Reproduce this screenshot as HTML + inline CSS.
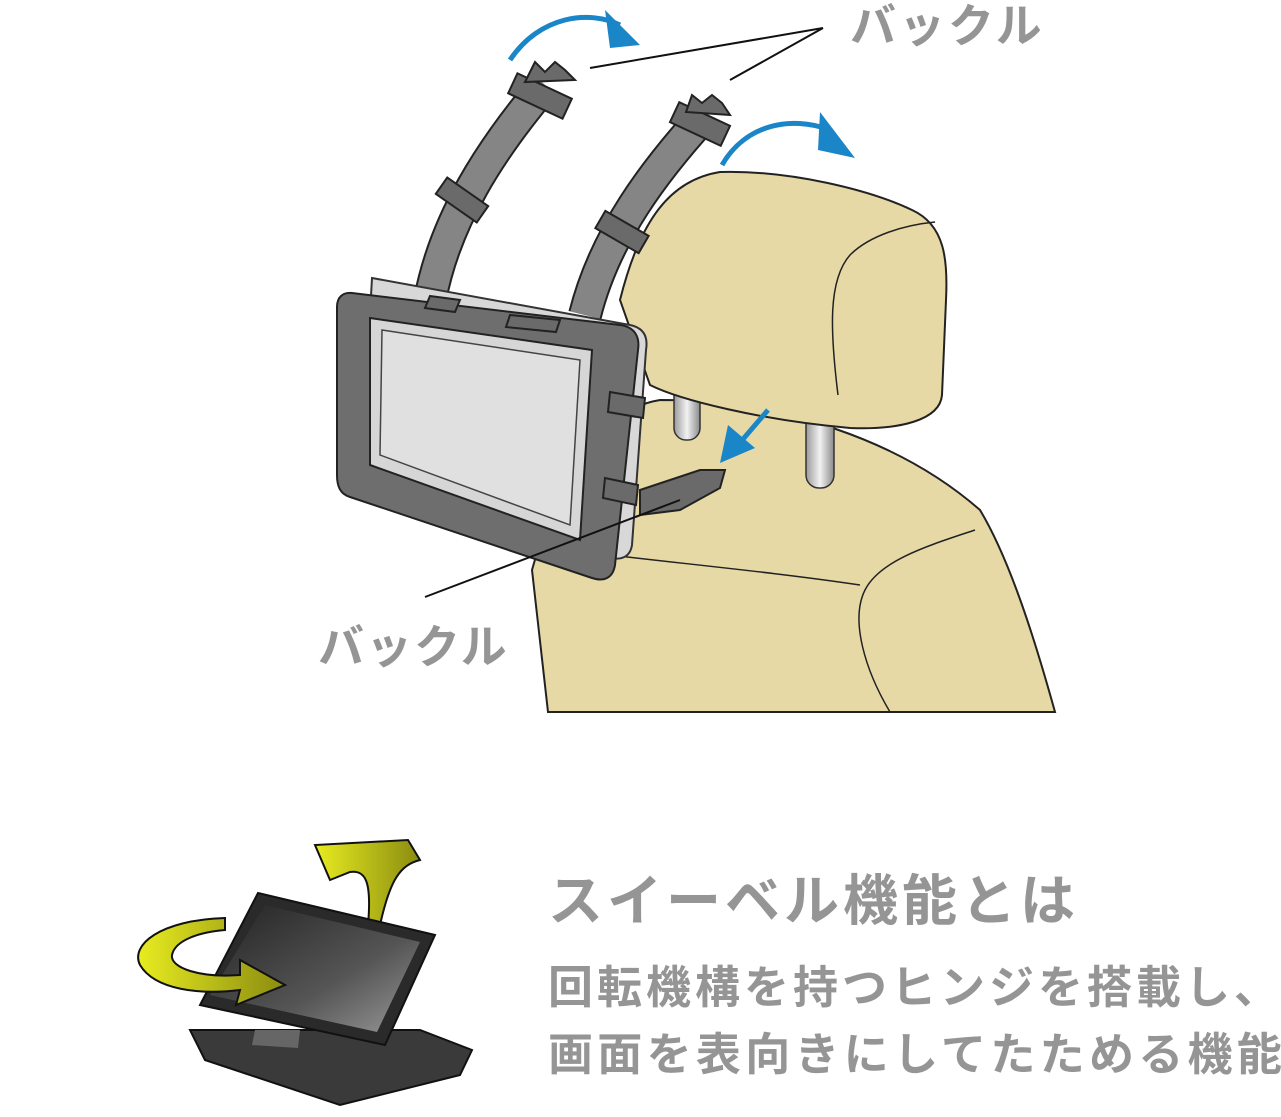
<!DOCTYPE html>
<html><head><meta charset="utf-8"><style>
html,body{margin:0;padding:0;background:#fff;}
svg{display:block;}
text{font-family:"Liberation Sans","Noto Sans CJK JP",sans-serif;font-weight:bold;fill:#959595;}
</style></head><body>
<svg width="1281" height="1117" viewBox="0 0 1281 1117" xmlns="http://www.w3.org/2000/svg">
<defs>
<linearGradient id="post" x1="0" x2="1"><stop offset="0" stop-color="#9a9a9a"/><stop offset="0.5" stop-color="#f2f2f2"/><stop offset="1" stop-color="#8a8a8a"/></linearGradient>
<linearGradient id="scr" x1="0" y1="0" x2="1" y2="1"><stop offset="0" stop-color="#222"/><stop offset="0.6" stop-color="#555"/><stop offset="1" stop-color="#999"/></linearGradient>
<linearGradient id="yel" x1="0" x2="1"><stop offset="0" stop-color="#e8ec20"/><stop offset="1" stop-color="#8a8c10"/></linearGradient>
</defs>

<path d="M548,712 L532,570 C560,470 600,410 660,400 C780,400 900,440 980,510 C1010,560 1035,640 1055,712 Z" fill="#e6d9a6" stroke="#222" stroke-width="2"/>
<path d="M530,545 C640,560 760,570 860,585" fill="none" stroke="#222" stroke-width="1.5"/>
<path d="M975,530 C930,545 880,560 865,590 C850,620 865,670 890,712" fill="none" stroke="#222" stroke-width="1.5"/>
<rect x="674" y="370" width="26" height="70" rx="12" fill="url(#post)" stroke="#333" stroke-width="1.5"/>
<rect x="806" y="410" width="28" height="78" rx="13" fill="url(#post)" stroke="#333" stroke-width="1.5"/>
<path d="M620,300 C640,220 670,180 720,172 C790,170 870,190 912,210 C945,225 948,260 946,300 L942,395 C940,420 900,430 850,428 C760,420 680,400 650,385 Z" fill="#e6d9a6" stroke="#222" stroke-width="2"/>
<path d="M838,395 C830,330 828,280 850,255 C870,235 905,225 935,222" fill="none" stroke="#222" stroke-width="1.5"/>

<g fill="none">
<path d="M430,300 C445,220 490,150 545,85" stroke="#222" stroke-width="34"/>
<path d="M430,300 C445,220 490,150 545,85" stroke="#858585" stroke-width="30"/>
<path d="M585,315 C605,235 655,170 705,115" stroke="#222" stroke-width="34"/>
<path d="M585,315 C605,235 655,170 705,115" stroke="#858585" stroke-width="30"/>
</g>
<g fill="#6a6a6a" stroke="#222" stroke-width="2">
<rect x="437" y="190" width="50" height="20" transform="rotate(35 462 200)"/>
<rect x="597" y="222" width="50" height="20" transform="rotate(30 622 232)"/>
<rect x="510" y="85" width="60" height="22" transform="rotate(25 540 96)"/>
<rect x="672" y="113" width="56" height="22" transform="rotate(25 700 124)"/>
<path d="M525,82 L535,62 L545,72 L555,62 L565,70 L575,80 Z"/>
<path d="M686,112 L692,95 L702,103 L712,95 L722,103 L730,115 Z"/>
</g>

<path d="M372,278 L630,325 C645,328 648,338 646,350 L632,545 C630,558 620,560 610,558 L360,490 Z" fill="#d8d8d8" stroke="#333" stroke-width="2"/>
<path d="M352,293 L620,325 C635,327 640,337 638,350 L615,565 C613,578 604,582 592,578 L350,497 C340,494 337,486 337,475 L337,307 C337,297 343,292 352,293 Z" fill="#6e6e6e" stroke="#222" stroke-width="2"/>
<path d="M370,318 L592,350 L580,540 L370,465 Z" fill="#d6d6d6" stroke="#222" stroke-width="2"/>
<path d="M382,330 L580,360 L570,525 L380,455 Z" fill="#e0e0e0" stroke="#444" stroke-width="1.5"/>
<g fill="#6a6a6a" stroke="#222" stroke-width="2">
<path d="M610,392 L645,398 L643,418 L608,412 Z"/>
<path d="M605,478 L638,485 L636,505 L603,498 Z"/>
<path d="M640,490 L700,470 L725,470 L720,488 L680,510 L640,515 Z"/>
<path d="M430,296 L460,300 L455,312 L425,308 Z"/>
<path d="M510,315 L560,320 L556,332 L506,327 Z"/>
</g>

<g fill="none" stroke="#1a86c8" stroke-width="5">
<path d="M510,60 C540,15 590,10 620,25"/>
<path d="M722,165 C745,125 790,115 830,130"/>
<path d="M768,410 L738,445"/>
</g>
<g fill="#1a86c8">
<path d="M605,10 L640,45 L610,48 Z"/>
<path d="M820,112 L855,158 L818,150 Z"/>
<path d="M720,463 L728,425 L755,448 Z"/>
</g>

<g stroke="#111" stroke-width="2">
<line x1="590" y1="68" x2="823" y2="28"/>
<line x1="730" y1="80" x2="823" y2="28"/>
<line x1="425" y1="597" x2="680" y2="500"/>
</g>
<text x="850" y="42" font-size="46" letter-spacing="3">バックル</text>
<text x="318" y="663" font-size="46" letter-spacing="2">バックル</text>

<path d="M190,1030 L420,1030 L472,1050 L460,1075 L340,1105 L205,1060 Z" fill="#3a3a3a" stroke="#111" stroke-width="2"/>
<path d="M255,1030 L300,1030 L298,1048 L252,1045 Z" fill="#666"/>
<path d="M380,925 C390,880 400,865 420,860 L408,840 L315,845 L330,880 L350,872 C365,870 372,880 368,925 Z" fill="url(#yel)" stroke="#111" stroke-width="2"/>
<path d="M258,893 L435,935 L385,1045 L200,1005 Z" fill="#2a2a2a" stroke="#111" stroke-width="2"/>
<path d="M265,905 L420,942 L377,1032 L210,995 Z" fill="url(#scr)"/>
<path d="M225,918 C160,920 130,945 140,965 C155,990 200,995 240,990 L236,1005 L285,985 L240,960 L240,975 C200,978 170,968 172,955 C175,940 200,932 225,930 Z" fill="url(#yel)" stroke="#111" stroke-width="2"/>

<text x="548" y="920" font-size="55" letter-spacing="4">スイーベル機能とは</text>
<text x="548" y="1003" font-size="45" letter-spacing="4">回転機構を持つヒンジを搭載し、</text>
<text x="548" y="1070" font-size="45" letter-spacing="4.3">画面を表向きにしてたためる機能</text>
</svg>
</body></html>
